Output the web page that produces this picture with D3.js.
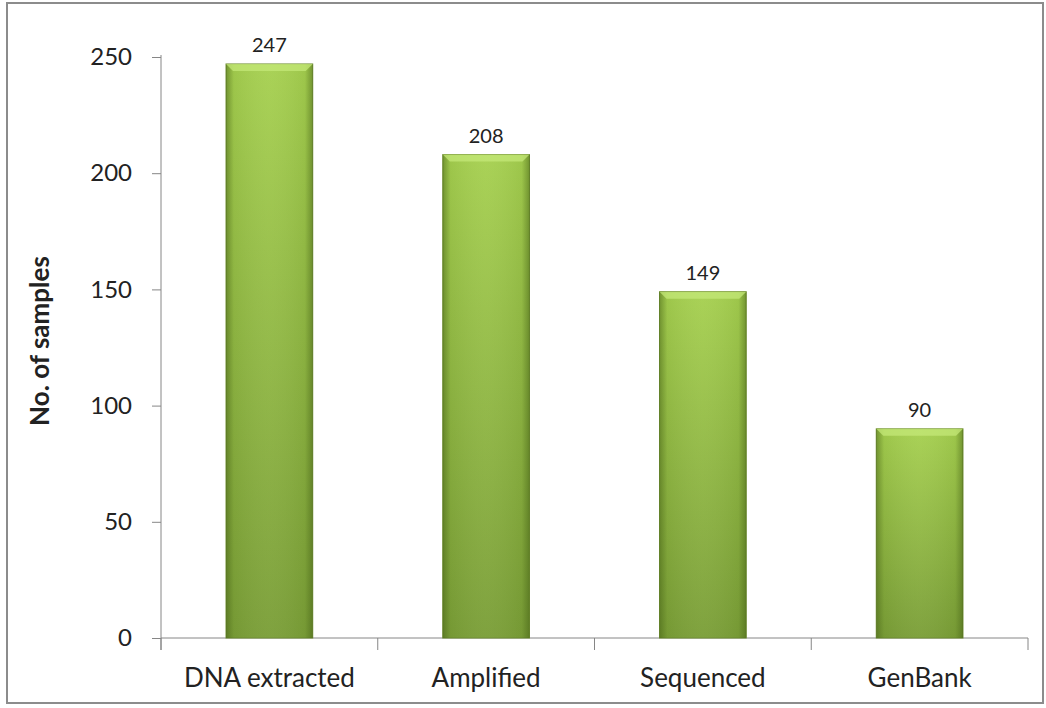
<!DOCTYPE html>
<html lang="en">
<head>
<meta charset="utf-8">
<title>No. of samples</title>
<script src="https://cdn.jsdelivr.net/npm/d3@7"></script>
<style>
  body { margin:0; background:#ffffff; }
  text { font-family: Lato, "Open Sans", sans-serif; fill:#222; }
</style>
</head>
<body>
<script>
// data
var categories = ["DNA extracted", "Amplified", "Sequenced", "GenBank"];
var samples = [247, 208, 149, 90];
var yTicks = [0, 50, 100, 150, 200, 250];

var width = 1046, height = 708;
var x0 = 161, x1 = 1028, yTop = 57, yZero = 638;

var svg = d3.select("body").append("svg")
    .attr("width", width)
    .attr("height", height);

// outer frame
svg.append("rect")
    .attr("x", 7).attr("y", 3)
    .attr("width", 1036).attr("height", 700)
    .attr("fill", "#fff")
    .attr("stroke", "#8c8c8c")
    .attr("stroke-width", 2);

var defs = svg.append("defs");
var gv = defs.append("linearGradient").attr("id", "gv")
    .attr("x1", 0).attr("y1", 0).attr("x2", 0).attr("y2", 1);
gv.append("stop").attr("offset", "0%").attr("stop-color", "#a6d050");
gv.append("stop").attr("offset", "100%").attr("stop-color", "#7a9e37");

var gh = defs.append("linearGradient").attr("id", "gh")
    .attr("x1", 0).attr("y1", 0).attr("x2", 1).attr("y2", 0);
gh.append("stop").attr("offset", "0%").attr("stop-color", "#3f5a12").attr("stop-opacity", 0.5);
gh.append("stop").attr("offset", "9%").attr("stop-color", "#3f5a12").attr("stop-opacity", 0.08);
gh.append("stop").attr("offset", "50%").attr("stop-color", "#ffffff").attr("stop-opacity", 0.04);
gh.append("stop").attr("offset", "91%").attr("stop-color", "#3f5a12").attr("stop-opacity", 0.08);
gh.append("stop").attr("offset", "100%").attr("stop-color", "#3f5a12").attr("stop-opacity", 0.5);

var xScale = d3.scaleBand()
    .domain(categories)
    .range([x0, x1])
    .paddingInner(0.6)
    .paddingOuter(0.3);

var yScale = d3.scaleLinear()
    .domain([0, 250])
    .range([yZero, yTop]);

// y axis
var yAxis = d3.axisLeft(yScale).tickValues(yTicks).tickSize(9).tickPadding(20);
var gy = svg.append("g").attr("transform", "translate(" + x0 + ",0)").call(yAxis);
gy.select(".domain").attr("stroke", "#868686").attr("d", "M0," + (yZero + 12) + "V" + (yTop - 2));
gy.selectAll(".tick line").attr("stroke", "#868686");
gy.selectAll(".tick text")
    .style("font-family", "Lato, sans-serif")
    .style("font-size", "24px")
    .attr("fill", "#222");

// x axis with ticks at category boundaries
svg.append("line")
    .attr("x1", x0).attr("x2", x1)
    .attr("y1", yZero).attr("y2", yZero)
    .attr("stroke", "#868686");
var bounds = categories.map(function(d){ return xScale(d) - xScale.step()*xScale.paddingOuter(); });
bounds.push(x1);
svg.selectAll(".xtick").data(bounds).enter().append("line")
    .attr("class", "xtick")
    .attr("x1", function(d){ return d; }).attr("x2", function(d){ return d; })
    .attr("y1", yZero).attr("y2", yZero + 12)
    .attr("stroke", "#868686");

svg.selectAll(".xlab").data(categories).enter().append("text")
    .attr("class", "xlab")
    .attr("x", function(d){ return xScale(d) + xScale.bandwidth()/2; })
    .attr("y", 687)
    .attr("text-anchor", "middle")
    .style("font-size", "26px")
    .text(function(d){ return d; });

// bars
var bars = svg.selectAll(".bar").data(samples).enter().append("g").attr("class", "bar");
bars.append("rect")
    .attr("x", function(d,i){ return xScale(categories[i]); })
    .attr("y", function(d){ return yScale(d); })
    .attr("width", xScale.bandwidth())
    .attr("height", function(d){ return yZero - yScale(d); })
    .attr("fill", "url(#gv)")
    .attr("stroke", "#6d8c2f")
    .attr("stroke-width", 1);
bars.append("rect")
    .attr("x", function(d,i){ return xScale(categories[i]); })
    .attr("y", function(d){ return yScale(d); })
    .attr("width", xScale.bandwidth())
    .attr("height", function(d){ return yZero - yScale(d); })
    .attr("fill", "url(#gh)");
// top bevel
bars.append("path")
    .attr("d", function(d,i){
        var bx = xScale(categories[i]), by = yScale(d), bw = xScale.bandwidth();
        return "M" + bx + "," + by + "H" + (bx + bw) + "L" + (bx + bw - 7) + "," + (by + 7) + "H" + (bx + 7) + "Z";
    })
    .attr("fill", "#c4e878")
    .attr("opacity", 0.75);

svg.selectAll(".vlab").data(samples).enter().append("text")
    .attr("class", "vlab")
    .attr("x", function(d,i){ return xScale(categories[i]) + xScale.bandwidth()/2; })
    .attr("y", function(d){ return yScale(d) - 12; })
    .attr("text-anchor", "middle")
    .style("font-size", "20px")
    .text(function(d){ return d; });

// y axis title
svg.append("text")
    .attr("transform", "translate(49,341) rotate(-90)")
    .attr("text-anchor", "middle")
    .style("font-size", "26px")
    .style("font-weight", "bold")
    .attr("fill", "#111")
    .text("No. of samples");
</script>
</body>
</html>
